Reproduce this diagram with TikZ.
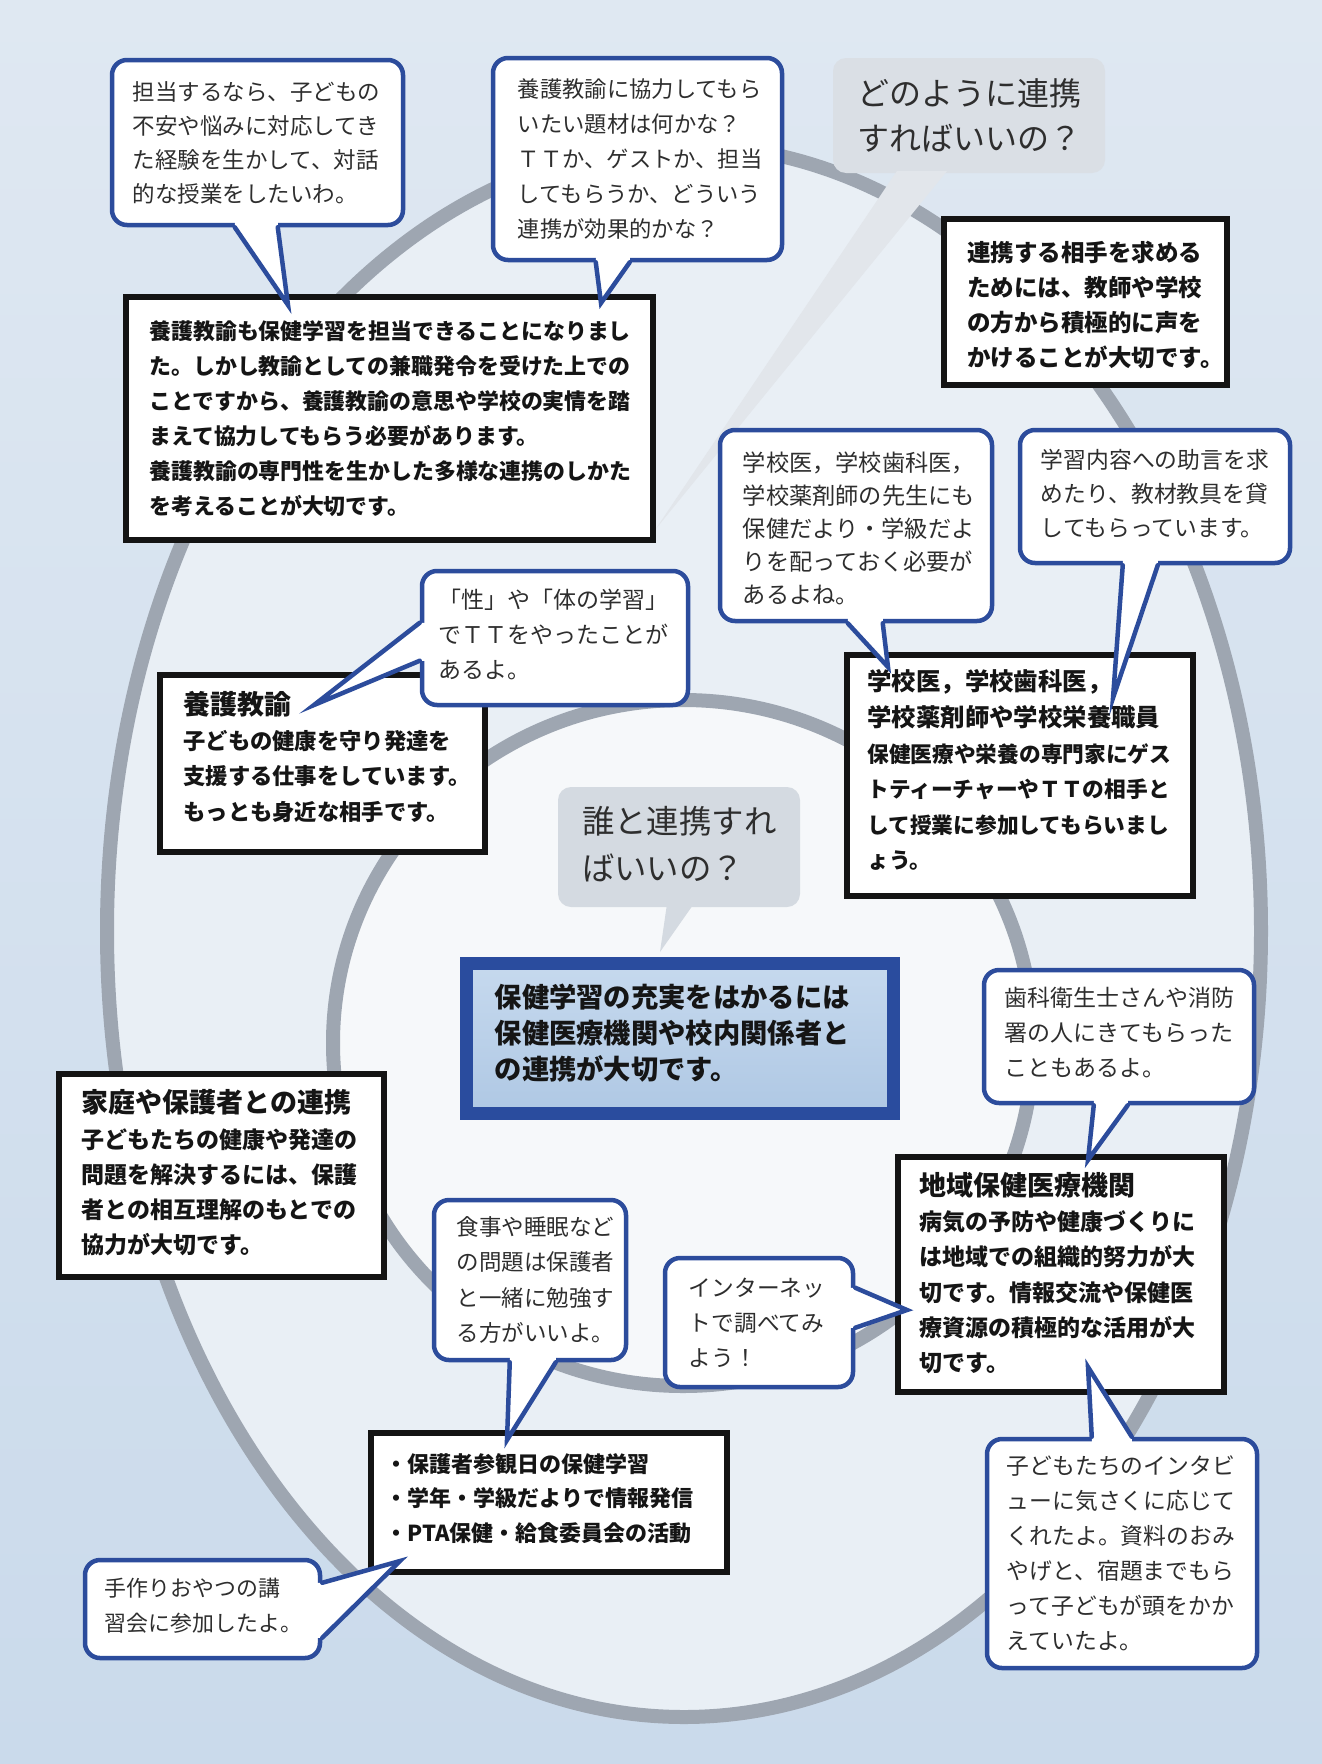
\documentclass[tikz,border=0pt]{standalone}
\usepackage{fontspec}
\setmainfont{Noto Sans CJK JP}
\usetikzlibrary{calc}
\definecolor{bblue}{HTML}{2C4C9C}
\definecolor{ringc}{HTML}{9EA6B1}
\definecolor{bgtop}{HTML}{DFE8F2}
\definecolor{bgbot}{HTML}{CADAEB}
\definecolor{bgmid}{HTML}{E9EFF5}
\definecolor{bgin}{HTML}{F6F8FA}
\definecolor{gbub}{HTML}{D4DAE1}
\definecolor{tbub}{HTML}{DADFE5}
\definecolor{gtail}{HTML}{E2E6EB}
\definecolor{kfilla}{HTML}{C6D9EE}
\definecolor{kfillb}{HTML}{AFC8E4}
\definecolor{kline}{HTML}{2A4C9E}
\definecolor{txtb}{HTML}{2E2E2E}
\definecolor{txtk}{HTML}{151515}
\definecolor{boxk}{HTML}{141414}
\newcommand\setfs[2]{\fontsize{#1pt}{#2pt}\selectfont}
\newcommand\btail[5]{\fill[white] #1 -- #2 -- #3 -- #4 -- #5 -- cycle; \draw[tl] #2 -- #3 -- #4;}
\begin{document}
\begin{tikzpicture}[x=1pt,y=-1pt,
  bub/.style={draw=bblue, line width=4.5pt, fill=white, rounded corners=15pt, inner sep=0pt},
  bx/.style={draw=boxk, line width=5.5pt, fill=white, inner sep=0pt},
  gb/.style={fill=gbub, rounded corners=13pt, inner sep=0pt},
  btxt/.style={inner sep=0pt, align=left, text=txtb, anchor=west},
  xtxt/.style={inner sep=0pt, align=left, text=txtk, anchor=west},
  tl/.style={draw=bblue, line width=4.5pt, line join=miter, line cap=round},
  ringline/.style={draw=ringc, line width=14pt}]
\path[use as bounding box] (0,0) rectangle (1322,1764);
% background
\shade[top color=bgtop, bottom color=bgbot] (0,0) rectangle (1322,1764);
\fill[bgmid] (684,931) ellipse [x radius=577pt, y radius=786pt];
\fill[bgin] (683,1043) ellipse [x radius=350pt, y radius=343pt];
\draw[ringline] (684,931) ellipse [x radius=577pt, y radius=786pt];
\draw[ringline] (683,1043) ellipse [x radius=350pt, y radius=343pt];

% top gray bubble
\node[gb, fill=tbub, minimum width=272pt, minimum height=115pt] (T) at (969,115.5) {};
\coordinate (tT) at (655,530);
\fill[gtail] ($(T.south west)+(64,-2)$) -- (tT) -- ($(T.south west)+(114,-2)$) -- cycle;
\node[btxt, font=\setfs{32}{45}] (Tt) at ($(T.west)+(24,0)$) {どのように連携\\すればいいの？};

% boxes
\node[bx, minimum width=527pt, minimum height=243pt] (C) at (389.5,418.5) {};
\node[xtxt, font=\setfs{21.9}{35}\bfseries] (Ct) at ($(C.west)+(26,0)$) {養護教諭も保健学習を担当できることになりまし\\た。しかし教諭としての兼職発令を受けた上での\\ことですから、養護教諭の意思や学校の実情を踏\\まえて協力してもらう必要があります。\\養護教諭の専門性を生かした多様な連携のしかた\\を考えることが大切です。};

\node[bx, minimum width=283pt, minimum height=166pt] (D) at (1085.5,302) {};
\node[xtxt, font=\setfs{23.5}{35}\bfseries] (Dt) at ($(D.west)+(26,3)$) {連携する相手を求める\\ためには、教師や学校\\の方から積極的に声を\\かけることが大切です。};

\node[bx, minimum width=346pt, minimum height=241pt] (G) at (1020,775.5) {};
\node[xtxt, font=\setfs{24.4}{36}\bfseries] (Gh) at ($(G.north west)+(23,47)$) {学校医，学校歯科医，\\学校薬剤師や学校栄養職員};
\node[xtxt, font=\setfs{21.7}{35.5}\bfseries] (Gt) at ($(G.north west)+(23,155)$) {保健医療や栄養の専門家にゲス\\トティーチャーやＴＴの相手と\\して授業に参加してもらいまし\\ょう。};

\node[bx, minimum width=325pt, minimum height=177pt] (I) at (322.5,763.5) {};
\node[xtxt, font=\setfs{27}{36}\bfseries] (Ih) at ($(I.north west)+(26,31.5)$) {養護教諭};
\node[xtxt, font=\setfs{22.3}{35.4}\bfseries] (It) at ($(I.north west)+(26,104)$) {子どもの健康を守り発達を\\支援する仕事をしています。\\もっとも身近な相手です。};

\node[bx, minimum width=325pt, minimum height=203pt] (M) at (221.5,1175.5) {};
\node[xtxt, font=\setfs{27}{36}\bfseries] (Mh) at ($(M.north west)+(25,31)$) {家庭や保護者との連携};
\node[xtxt, font=\setfs{23}{35.2}\bfseries] (Mt) at ($(M.north west)+(25,121)$) {子どもたちの健康や発達の\\問題を解決するには、保護\\者との相互理解のもとでの\\協力が大切です。};

\node[bx, minimum width=326pt, minimum height=235pt] (N) at (1061,1274.5) {};
\node[xtxt, font=\setfs{27}{36}\bfseries] (Nh) at ($(N.north west)+(24,31)$) {地域保健医療機関};
\node[xtxt, font=\setfs{23}{35.4}\bfseries] (Nt) at ($(N.north west)+(24,138)$) {病気の予防や健康づくりに\\は地域での組織的努力が大\\切です。情報交流や保健医\\療資源の積極的な活用が大\\切です。};

\node[bx, minimum width=356pt, minimum height=139pt] (Q) at (549,1502.5) {};
\node[xtxt, font=\setfs{22}{34.3}\bfseries] (Qt) at ($(Q.west)+(17,-4)$) {・保護者参観日の保健学習\\・学年・学級だよりで情報発信\\・PTA保健・給食委員会の活動};

% central box
\node[draw=kline, line width=13pt, top color=kfilla, bottom color=kfillb, minimum width=427pt, minimum height=150pt, inner sep=0pt] (K) at (680,1038.5) {};
\node[xtxt, font=\setfs{27.3}{36}\bfseries] (Kt) at ($(K.west)+(34.5,-5)$) {保健学習の充実をはかるには\\保健医療機関や校内関係者と\\の連携が大切です。};

% gray bubble J
\node[gb, minimum width=242pt, minimum height=120pt] (J) at (679,847) {};
\coordinate (tJ) at (660,952);
\fill[gbub] ($(J.south west)+(109,-2)$) -- (tJ) -- ($(J.south west)+(135,-2)$) -- cycle;
\node[btxt, font=\setfs{32.4}{47}] (Jt) at ($(J.west)+(24,-3)$) {誰と連携すれ\\ばいいの？};

% speech bubbles
\node[bub, minimum width=291pt, minimum height=165pt] (A) at (257.5,142.5) {};
\node[btxt, font=\setfs{22.5}{34}] (At) at ($(A.west)+(23,0)$) {担当するなら、子どもの\\不安や悩みに対応してき\\た経験を生かして、対話\\的な授業をしたいわ。};
\coordinate (tA) at (288,305);
\btail{($(A.south west)+(125,-9)$)}{($(A.south west)+(125,0)$)}{(tA)}{($(A.south west)+(168,0)$)}{($(A.south west)+(168,-9)$)}

\node[bub, minimum width=289pt, minimum height=202pt] (B) at (637.5,159) {};
\node[btxt, font=\setfs{22.3}{35}] (Bt) at ($(B.west)+(27,0)$) {養護教諭に協力してもら\\いたい題材は何かな？\\ＴＴか、ゲストか、担当\\してもらうか、どういう\\連携が効果的かな？};
\coordinate (tB) at (601,303);
\btail{($(B.south west)+(105,-9)$)}{($(B.south west)+(105,0)$)}{(tB)}{($(B.south west)+(139,0)$)}{($(B.south west)+(139,-9)$)}

\node[bub, minimum width=272pt, minimum height=191pt] (E) at (856,525.5) {};
\node[btxt, font=\setfs{23.2}{33}] (Et) at ($(E.west)+(25,3)$) {学校医，学校歯科医，\\学校薬剤師の先生にも\\保健だより・学級だよ\\りを配っておく必要が\\あるよね。};
\coordinate (tE) at (888,667);
\btail{($(E.south west)+(130,-9)$)}{($(E.south west)+(130,0)$)}{(tE)}{($(E.south west)+(165,0)$)}{($(E.south west)+(165,-9)$)}

\node[bub, minimum width=270pt, minimum height=133pt] (F) at (1155,496.5) {};
\node[btxt, font=\setfs{22.8}{34}] (Ft) at ($(F.west)+(23,-3)$) {学習内容への助言を求\\めたり、教材教具を貸\\してもらっています。};
\coordinate (tF) at (1113,698);
\btail{($(F.south west)+(105,-9)$)}{($(F.south west)+(105,0)$)}{(tF)}{($(F.south west)+(140,0)$)}{($(F.south west)+(140,-9)$)}

\node[bub, minimum width=266pt, minimum height=134pt] (H) at (555,638) {};
\node[btxt, font=\setfs{23}{35}] (Ht) at ($(H.west)+(19,-4)$) {「性」や「体の学習」\\でＴＴをやったことが\\あるよ。};
\coordinate (tH) at (314,705);
\btail{($(H.north west)+(9,54)$)}{($(H.north west)+(0,54)$)}{(tH)}{($(H.north west)+(0,92)$)}{($(H.north west)+(9,92)$)}

\node[bub, minimum width=270pt, minimum height=133pt] (L) at (1119,1036.5) {};
\node[btxt, font=\setfs{23}{35}] (Lt) at ($(L.west)+(23,-3.5)$) {歯科衛生士さんや消防\\署の人にきてもらった\\こともあるよ。};
\coordinate (tL) at (1088,1160);
\btail{($(L.south west)+(112,-9)$)}{($(L.south west)+(112,0)$)}{(tL)}{($(L.south west)+(146,0)$)}{($(L.south west)+(146,-9)$)}

\node[bub, minimum width=192pt, minimum height=160pt] (O) at (530,1280) {};
\node[btxt, font=\setfs{22.5}{35.2}] (Ot) at ($(O.west)+(25,0)$) {食事や睡眠など\\の問題は保護者\\と一緒に勉強す\\る方がいいよ。};
\coordinate (tO) at (507,1440);
\btail{($(O.south west)+(78,-9)$)}{($(O.south west)+(78,0)$)}{(tO)}{($(O.south west)+(124,0)$)}{($(O.south west)+(124,-9)$)}

\node[bub, minimum width=188pt, minimum height=129pt] (P) at (759,1322.5) {};
\node[btxt, font=\setfs{22.7}{35}] (Pt) at ($(P.west)+(26,0)$) {インターネッ\\トで調べてみ\\よう！};
\coordinate (tP) at (907,1310);
\btail{($(P.north east)+(-9,32)$)}{($(P.north east)+(0,32)$)}{(tP)}{($(P.north east)+(0,72)$)}{($(P.north east)+(-9,72)$)}

\node[bub, minimum width=235pt, minimum height=98pt] (R) at (202.5,1609) {};
\node[btxt, font=\setfs{21.9}{35}] (Rt) at ($(R.west)+(22,-3)$) {手作りおやつの講\\習会に参加したよ。};
\coordinate (tR) at (400,1561);
\btail{($(R.north east)+(-9,25)$)}{($(R.north east)+(0,25)$)}{(tR)}{($(R.north east)+(0,80)$)}{($(R.north east)+(-9,80)$)}

\node[bub, minimum width=270pt, minimum height=229pt] (S) at (1122,1553.5) {};
\node[btxt, font=\setfs{22.8}{34.9}] (St) at ($(S.west)+(22,0)$) {子どもたちのインタビ\\ューに気さくに応じて\\くれたよ。資料のおみ\\やげと、宿題までもら\\って子どもが頭をかか\\えていたよ。};
\coordinate (tS) at (1088,1367);
\btail{($(S.north west)+(107,9)$)}{($(S.north west)+(107,0)$)}{(tS)}{($(S.north west)+(147,0)$)}{($(S.north west)+(147,9)$)}
\end{tikzpicture}
\end{document}
